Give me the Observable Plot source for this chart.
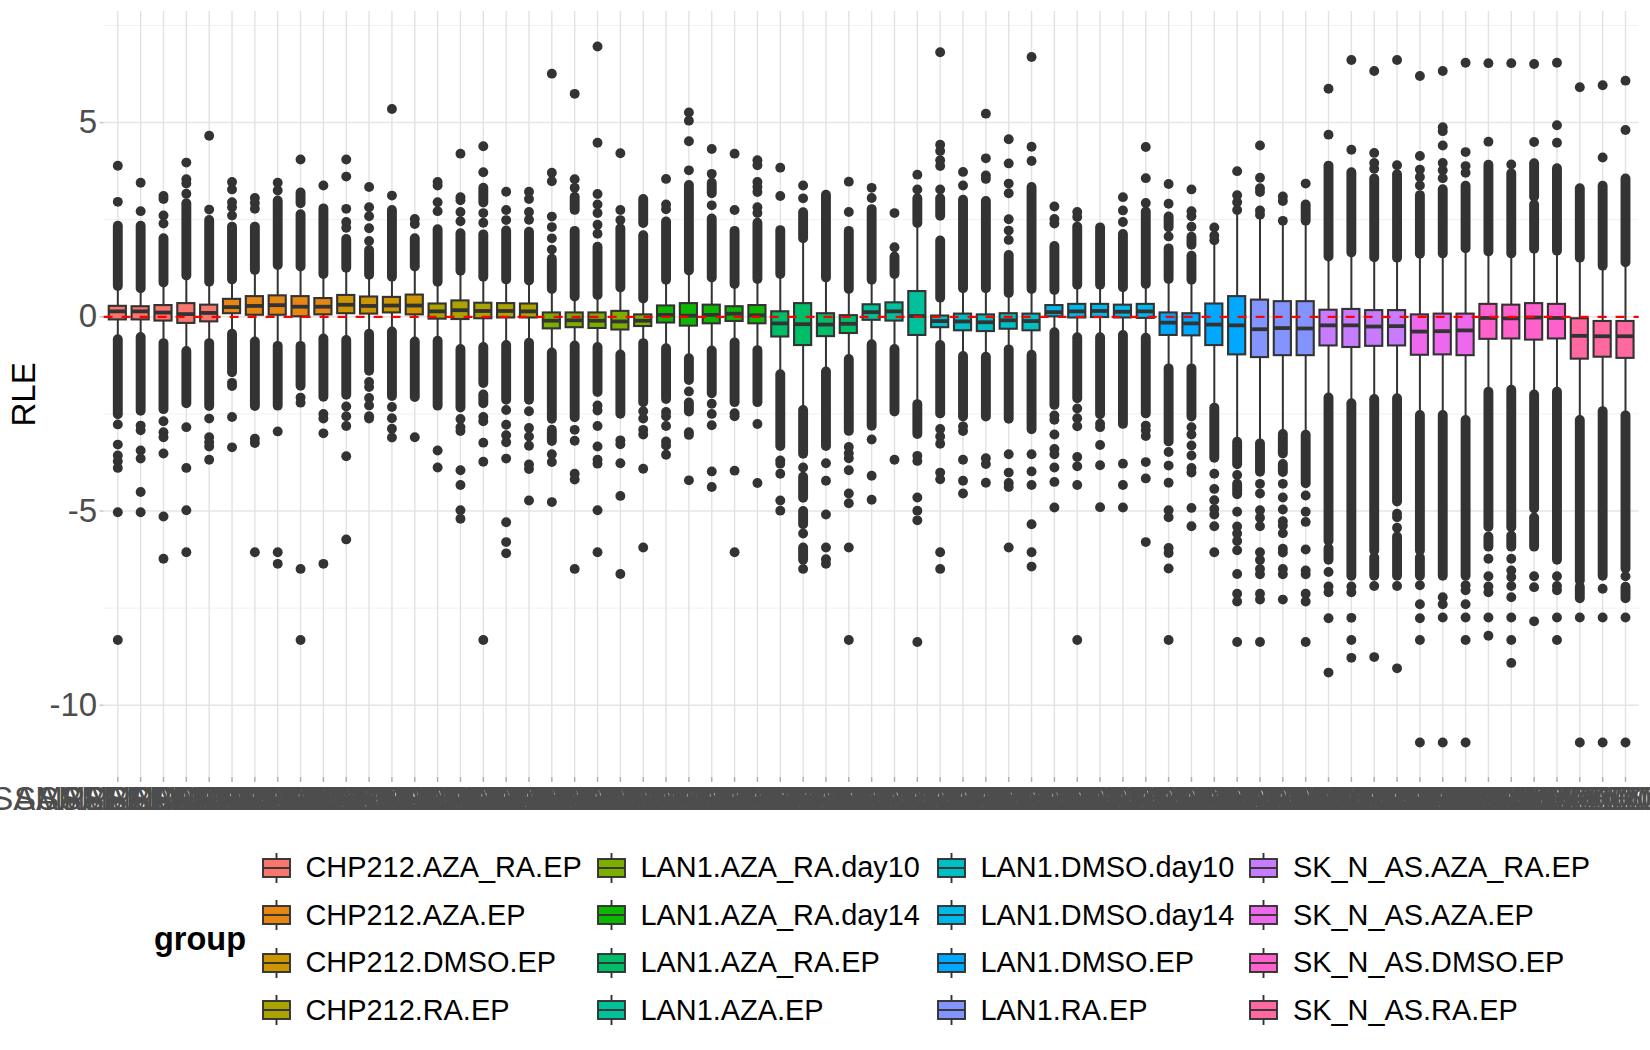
<!DOCTYPE html>
<html><head><meta charset="utf-8">
<script src="https://cdn.jsdelivr.net/npm/d3@7"></script>
<script src="https://cdn.jsdelivr.net/npm/@observablehq/plot@0.6"></script>
<style>
html,body{margin:0;padding:0;background:#fff;font-family:"Liberation Sans",Arial,sans-serif;overflow:hidden}
#legend{display:flex;align-items:center;height:190px;margin-left:154px;margin-top:1px}
#legend .title{font-weight:bold;font-size:32.5px;width:107.5px;color:#000}
#legend .grid{display:grid;grid-template-rows:repeat(4,47.5px);grid-auto-flow:column;grid-template-columns:335px 340px 312.5px 380px}
#legend .item{display:flex;align-items:center;font-size:28.9px;color:#000;white-space:nowrap}
#legend svg{flex:none;margin-right:15px}
</style></head><body>
<div id="chart"></div>
<div id="legend"></div>
<script>
const groups = ["CHP212.AZA_RA.EP","CHP212.AZA.EP","CHP212.DMSO.EP","CHP212.RA.EP","LAN1.AZA_RA.day10","LAN1.AZA_RA.day14","LAN1.AZA_RA.EP","LAN1.AZA.EP","LAN1.DMSO.day10","LAN1.DMSO.day14","LAN1.DMSO.EP","LAN1.RA.EP","SK_N_AS.AZA_RA.EP","SK_N_AS.AZA.EP","SK_N_AS.DMSO.EP","SK_N_AS.RA.EP"];
const groupColors = ["#F8766D","#E68613","#CD9600","#ABA300","#7CAE00","#0CB702","#00BE67","#00C19A","#00BFC4","#00B8E7","#00A9FF","#8494FF","#C77CFF","#ED68ED","#FF61CC","#FF68A1"];
const groupSizes = [5,5,4,5,5,5,4,3,5,5,4,3,4,3,4,3];

const q1 = [-.08,-.08,-.11,-.17,-.13,.08,.04,.04,0,.05,.08,.07,.10,.05,-.06,-.07,-.05,-.03,-.03,-.31,-.28,-.30,-.34,-.25,-.16,-.24,-.18,-.12,-.18,-.52,-.74,-.51,-.43,-.09,-.11,-.48,-.28,-.36,-.38,-.32,-.36,0,-.03,-.02,-.03,-.04,-.48,-.49,-.74,-.98,-1.05,-1.0,-1.0,-.75,-.79,-.76,-.75,-.99,-.98,-1.0,-.58,-.57,-.60,-.57,-1.09,-1.04,-1.07];
const median = [.14,.14,.11,.07,.10,.25,.28,.30,.26,.26,.31,.28,.29,.29,.14,.17,.15,.15,.14,-.10,-.09,-.10,-.12,-.10,.05,.03,.05,.08,.04,-.17,-.19,-.20,-.18,.12,.14,.02,-.11,-.12,-.14,-.09,-.11,.12,.14,.15,.13,.14,-.15,-.17,-.20,-.22,-.32,-.29,-.30,-.22,-.22,-.25,-.24,-.38,-.37,-.35,-.03,-.04,-.02,-.03,-.49,-.50,-.50];
const q3 = [.27,.26,.29,.34,.30,.45,.52,.54,.52,.47,.55,.51,.50,.56,.33,.41,.35,.34,.33,.10,.10,.10,.14,.05,.28,.34,.30,.26,.29,.13,.34,.08,.03,.31,.36,.65,.02,.07,.05,.08,.07,.29,.32,.32,.30,.32,.10,.08,.33,.52,.43,.39,.39,.17,.19,.16,.16,.05,.07,.07,.32,.30,.34,.32,-.05,-.12,-.12];
const whiskerHigh = [.78,.72,.87,1.05,.89,.95,1.19,1.32,1.28,1.09,1.25,1.07,1.02,1.28,.89,1.17,1.02,.95,.92,.7,.51,.55,.74,.46,.94,1.18,1.0,.83,.96,1.09,2.01,1.0,.7,.94,1.09,2.4,.48,.72,.72,.6,.7,.68,.81,.81,.75,.83,.96,.94,1.97,2.75,2.63,2.47,2.46,1.54,1.64,1.52,1.51,1.61,1.62,1.75,1.67,1.62,1.74,1.69,1.51,1.3,1.39];
const whiskerLow = [-.59,-.53,-.69,-.89,-.69,-.45,-.65,-.76,-.76,-.57,-.61,-.45,-.39,-.65,-.63,-.84,-.79,-.74,-.68,-.93,-.75,-.79,-.98,-.69,-.82,-1.08,-.88,-.67,-.87,-1.49,-2.41,-1.42,-1.1,-.72,-.84,-2.26,-.74,-1.02,-1.04,-.85,-.99,-.41,-.54,-.54,-.48,-.55,-1.34,-1.34,-2.35,-3.23,-3.27,-3.03,-3.05,-2.09,-2.24,-2.13,-2.11,-2.54,-2.54,-2.67,-1.94,-1.89,-2.01,-1.94,-2.67,-2.44,-2.55];

// Runs of outliers so dense they read as one solid band: [from, to] per sample.
const denseBands = [
 [[.78,2.33],[-.59,-2.52]],[[.72,2.33],[-.53,-2.43]],[[.87,2.01],[-.69,-2.39]],[[1.05,2.91],[-.89,-2.24]],[[.89,2.48],[-.69,-2.31]],
 [[.95,2.31],[-.45,-1.44]],[[1.19,2.31],[-.65,-2.31]],[[1.32,2.98],[-.76,-2.3]],[[1.28,2.63],[2.91,3.19],[-.76,-1.79]],[[1.09,2.78],[-.57,-2.07]],
 [[1.25,1.99],[-.61,-2.02]],[[1.07,1.71],[-.45,-1.4]],[[1.02,2.74],[-.39,-2.05]],[[1.28,2.01],[-.65,-2.08]],
 [[.89,2.24],[-.63,-2.3]],[[1.17,2.14],[-.84,-2.35]],[[1.02,2.11],[2.93,3.31],[-.79,-1.72],[-2.01,-2.24]],[[.95,2.21],[-.74,-2.15]],[[.92,2.18],[-.68,-2.15]],
 [[.7,1.48],[-.93,-2.64],[-2.92,-3.21]],[[.51,2.2],[2.74,3.08],[-.75,-2.6]],[[.55,1.79],[-.79,-1.95]],[[.74,2.27],[-.98,-2.51]],[[.46,2.09],[2.4,3.02],[-.69,-2.21]],
 [[.94,2.44],[-.82,-2.13]],[[1.18,3.38],[-1.08,-1.64],[-2.22,-2.45]],[[1.0,2.52],[3.17,3.44],[-.88,-1.98]],[[.83,2.2],[-.67,-2.21]],[[.96,2.41],[-.87,-2.21]],
 [[1.09,2.22],[-1.49,-3.34]],[[2.01,2.68],[-2.41,-3.54],[-4.13,-4.67],[-5.01,-5.35],[-5.95,-6.27]],[[1.0,3.13],[-1.42,-3.34]],[[.7,2.2],[-1.1,-2.95]],
 [[.94,2.76],[-.72,-2.82]],[[1.09,1.54],[-.84,-2.45]],[[2.4,3.04],[-2.26,-3.03]],
 [[.48,1.95],[2.59,3.04],[-.74,-2.5]],[[.72,3.0],[-1.02,-2.58]],[[.72,2.97],[-1.04,-2.58]],[[.6,1.58],[-.85,-2.64]],[[.7,3.33],[-.99,-2.91]],
 [[.68,1.81],[-.41,-2.28]],[[.81,2.31],[-.54,-2.11]],[[.81,2.29],[-.54,-2.52]],[[.75,2.12],[-.48,-2.77]],[[.83,2.70],[-.55,-2.5]],
 [[.96,1.75],[2.29,2.57],[-1.34,-3.22]],[[.94,1.56],[1.84,2.05],[-1.34,-2.58]],[[-2.35,-3.64]],[[-3.23,-3.81],[-4.31,-4.58]],
 [[-3.27,-4.0]],[[-3.03,-3.53],[-3.8,-4.01]],[[2.46,2.88],[-3.05,-4.3]],
 [[1.54,3.88],[-2.09,-5.78],[-5.97,-6.27]],[[1.64,3.71],[-2.24,-6.68]],[[1.52,3.55],[-2.13,-6.03],[-6.2,-6.68]],[[1.51,3.66],[-2.11,-4.77],[-5.67,-6.68]],
 [[1.61,3.12],[-2.54,-6.03],[-6.21,-6.68]],[[1.62,3.27],[-2.54,-6.68]],[[1.75,3.36],[-2.67,-6.68]],
 [[1.67,3.9],[-1.94,-5.42],[-5.67,-5.93]],[[1.62,3.68],[-1.89,-5.43],[-5.64,-5.93]],[[1.74,2.88],[3.08,3.94],[-2.01,-4.95],[-5.18,-5.93]],[[1.69,3.81],[-1.94,-6.27]],
 [[1.51,3.3],[-2.67,-6.8],[-6.96,-7.26]],[[1.3,3.36],[-2.44,-6.68]],[[1.39,3.55],[-2.55,-6.49],[-6.96,-7.26]]
];

// Individual outlier points per sample.
const outliers = [
 [3.89,2.96,-2.77,-3.29,-3.57,-3.72,-3.89,-5.03,-8.32],
 [3.45,2.72,-2.8,-2.92,-3.44,-3.65,-4.51,-5.03],
 [3.11,3.03,2.61,2.40,-2.69,-2.97,-3.1,-3.52,-5.14,-6.23],
 [3.97,3.54,3.43,3.17,-2.84,-3.89,-4.98,-6.06],
 [4.66,2.76,-2.62,-3.1,-3.23,-3.34,-3.68],
 [3.47,3.28,2.95,2.82,2.61,-1.7,-1.78,-2.58,-3.36],
 [3.06,2.93,2.78,-3.14,-3.25,-6.06],
 [3.45,3.25,-2.95,-6.06,-6.36],
 [4.05,-2.08,-2.21,-6.49,-8.32],
 [3.38,-2.5,-2.62,-3.0,-6.36],
 [4.05,3.61,2.78,2.44,2.29,-2.31,-2.56,-2.81,-3.59,-5.73],
 [3.34,2.82,2.59,2.28,1.95,-1.68,-1.81,-2.09,-2.28,-2.56,-2.62],
 [5.35,3.12,-2.32,-2.61,-2.88,-3.11],
 [2.52,2.39,-3.1],
 [3.47,3.38,2.95,2.72,-3.44,-3.88],
 [4.20,3.08,3.0,2.70,2.46,-2.63,-2.84,-2.94,-3.95,-4.33,-4.98,-5.2],
 [4.39,3.72,2.67,2.42,-2.58,-2.69,-3.24,-3.73,-8.32],
 [3.22,2.75,2.49,-2.4,-2.78,-3.05,-3.23,-3.65,-5.29,-5.8,-6.09],
 [3.22,3.03,2.70,2.50,-2.43,-2.86,-3.08,-3.32,-3.8,-3.92,-4.73],
 [6.26,3.71,3.49,2.58,2.31,2.02,1.73,-3.54,-3.74,-4.77],
 [5.74,3.54,3.32,-2.91,-3.19,-4.04,-4.19,-6.49],
 [6.96,4.48,3.16,2.89,2.67,2.37,2.14,-2.28,-2.41,-2.81,-3.34,-3.68,-3.78,-4.98,-6.06],
 [4.21,2.75,2.49,-3.18,-3.28,-3.77,-4.61,-6.62],
 [-2.43,-2.62,-2.91,-3.03,-3.91,-5.94],
 [3.55,2.89,2.77,-2.45,-2.56,-2.81,-3.21,-3.31,-3.55],
 [5.26,5.05,4.52,3.77,-1.92,-2.97,-3.04,-4.21],
 [4.32,3.68,2.87,-2.24,-2.5,-2.79,-3.98,-4.38],
 [4.2,2.75,-2.48,-2.56,-3.96,-6.06],
 [4.03,3.9,3.47,3.34,3.21,2.82,2.67,-2.76,-4.28],
 [3.84,3.11,-3.7,-3.78,-4.04,-4.73,-4.99],
 [3.38,3.05,-3.88,-5.58,-6.49],
 [-3.77,-4.22,-5.09,-5.94,-6.24,-6.36],
 [3.48,2.7,-3.35,-3.51,-3.64,-3.95,-4.55,-4.8,-5.94,-8.32],
 [3.32,3.06,-3.16,-4.09,-4.71],
 [2.67,1.79,-3.68],
 [3.66,3.28,-3.58,-3.71,-4.65,-4.99,-5.24,-8.37],
 [6.81,4.43,4.27,4.03,3.88,3.28,-2.89,-3.08,-3.27,-4.01,-4.18,-6.06,-6.49],
 [3.73,3.38,-2.82,-2.94,-3.68,-4.22,-4.55],
 [5.23,4.08,3.64,3.55,-3.64,-3.79,-4.27],
 [4.57,3.95,3.43,3.18,2.51,2.22,1.98,-3.54,-4.01,-4.28,-4.38,-5.94],
 [6.69,4.38,4.01,-3.54,-3.98,-4.33,-5.34,-6.06,-6.43],
 [2.84,2.52,2.4,-2.54,-2.65,-3.03,-3.4,-3.54,-3.88,-4.25,-4.91],
 [2.7,2.57,-2.36,-2.61,-2.82,-3.61,-3.85,-4.33,-8.32],
 [-2.75,-2.84,-3.3,-3.82,-4.9],
 [3.08,2.74,2.44,-3.78,-4.33,-4.91],
 [4.37,3.57,2.93,-2.8,-2.92,-3.07,-3.74,-4.16,-5.8],
 [3.42,2.91,2.07,-3.48,-3.83,-4.27,-4.98,-5.16,-5.95,-6.08,-6.48,-8.32],
 [3.28,2.72,2.59,2.32,-2.84,-3.03,-3.31,-3.57,-3.89,-4.01,-4.92,-5.39],
 [2.3,2.09,1.97,-4.04,-4.43,-4.72,-4.95,-5.09,-5.39,-6.06],
 [3.75,3.13,2.95,2.75,-4.07,-5.02,-5.4,-5.58,-5.77,-6.01,-6.62,-7.13,-7.33,-8.37],
 [4.41,3.58,3.31,3.21,2.74,2.63,-4.3,-4.55,-4.98,-5.17,-5.39,-6.06,-6.26,-6.49,-6.63,-7.13,-7.28,-8.37],
 [3.1,2.98,2.47,-4.3,-4.65,-4.96,-5.26,-5.37,-5.57,-5.97,-6.07,-6.49,-6.63,-7.28],
 [3.43,-4.6,-5.02,-5.28,-5.99,-6.53,-6.63,-7.13,-7.33,-8.37],
 [5.87,4.69,-6.57,-6.94,-7.09,-7.76,-9.16],
 [6.61,4.3,-6.94,-7.09,-7.75,-8.32,-8.78],
 [6.33,4.22,3.96,3.81,-6.93,-8.76],
 [6.61,3.9,-5.07,-5.16,-5.43,-6.93,-9.05],
 [6.2,4.14,3.79,3.6,3.38,-6.91,-7.4,-7.76,-8.32,-10.96],
 [6.33,4.88,4.78,4.41,3.96,3.77,3.57,-7.22,-7.4,-7.74,-10.96],
 [6.54,4.24,3.88,3.71,-6.91,-7.04,-7.4,-7.74,-8.32,-10.96],
 [6.53,4.51,-6.23,-6.68,-6.94,-7.09,-7.74,-8.21],
 [6.53,3.92,-6.23,-6.53,-6.7,-6.93,-7.22,-7.74,-8.32,-8.91],
 [6.51,4.5,-6.68,-6.96,-7.84],
 [6.54,4.93,4.48,-6.68,-6.93,-7.04,-7.74,-8.32],
 [5.91,-7.74,-10.96],
 [5.96,4.1,-7.0,-7.74,-10.96],
 [6.08,4.81,-6.68,-7.74,-10.96]
];

const yTicks = [-10,-5,0,5];
const yMinorTicks = [-7.5,-2.5,2.5,7.5];
const sampleGroup = groups.flatMap((g,i)=>Array(groupSizes[i]).fill(g));
const samples = sampleGroup.map((g,i)=>"SAMPLE."+String(i+1).padStart(6,"0"));

const boxes = samples.map((s,i)=>({s,group:sampleGroup[i],q1:q1[i],median:median[i],q3:q3[i],lo:whiskerLow[i],hi:whiskerHigh[i]}));
const bands = samples.flatMap((s,i)=>denseBands[i].map(([a,b])=>({s,a,b})));
const points = samples.flatMap((s,i)=>outliers[i].map(v=>({s,v})));

const INK="#333333";
const chart = Plot.plot({
  width:1650, height:843,
  marginLeft:103.6, marginRight:11.3, marginTop:11, marginBottom:66,
  style:{background:"#fff",fontFamily:'"Liberation Sans",Arial,sans-serif',overflow:"hidden"},
  x:{type:"band",domain:samples,paddingInner:.25,paddingOuter:.225,label:null},
  y:{domain:[-11.86,7.86],label:null},
  color:{type:"ordinal",domain:groups,range:groupColors},
  marks:[
    Plot.gridY(yMinorTicks,{stroke:"#EFEFEF",strokeOpacity:1,strokeWidth:.9}),
    Plot.gridY(yTicks,{stroke:"#E6E6E6",strokeOpacity:1,strokeWidth:1.5}),
    Plot.gridX(samples,{stroke:"#E2E2E2",strokeOpacity:1,strokeWidth:1.4}),
    Plot.axisY({ticks:yTicks,tickFormat:d=>String(d),tickSize:4,tickPadding:3,fontSize:33,color:"#4D4D4D",stroke:"#C8C8C8",strokeWidth:1.5,label:null}),
    Plot.axisX({ticks:samples,tickSize:5,tickPadding:4,fontSize:33,color:"#4D4D4D",stroke:"#B0B0B0",strokeWidth:1.5,label:null}),
    Plot.text(["RLE"],{frameAnchor:"left",dx:-80,dy:32,rotate:-90,fontSize:33,fill:"#000"}),
    Plot.ruleX(bands,{x:"s",y1:"a",y2:"b",stroke:INK,strokeWidth:9.9,strokeLinecap:"round"}),
    Plot.dot(points,{x:"s",y:"v",r:4.95,fill:INK,stroke:"none"}),
    Plot.ruleX(boxes,{x:"s",y1:"lo",y2:"hi",stroke:INK,strokeWidth:2}),
    Plot.barY(boxes,{x:"s",y1:"q1",y2:"q3",fill:"group",stroke:INK,strokeWidth:2.1}),
    Plot.tickY(boxes,{x:"s",y:"median",stroke:INK,strokeWidth:3.8}),
    Plot.ruleY([0],{stroke:"#FF0000",strokeWidth:2.2,strokeDasharray:"9 9"})
  ]
});
document.getElementById("chart").appendChild(chart);

const keySvg = c => `<svg width="29" height="32" viewBox="0 0 29 32"><line x1="14.5" x2="14.5" y1="1" y2="31" stroke="${INK}" stroke-width="1.9"/><rect x="1" y="7" width="27" height="18" fill="${c}" stroke="${INK}" stroke-width="1.9"/><line x1="1" x2="28" y1="16" y2="16" stroke="${INK}" stroke-width="1.9"/></svg>`;
document.getElementById("legend").innerHTML =
  `<div class="title">group</div><div class="grid">` +
  groups.map((g,i)=>`<div class="item">${keySvg(groupColors[i])}<span>${g}</span></div>`).join("") + `</div>`;
</script>
</body></html>
